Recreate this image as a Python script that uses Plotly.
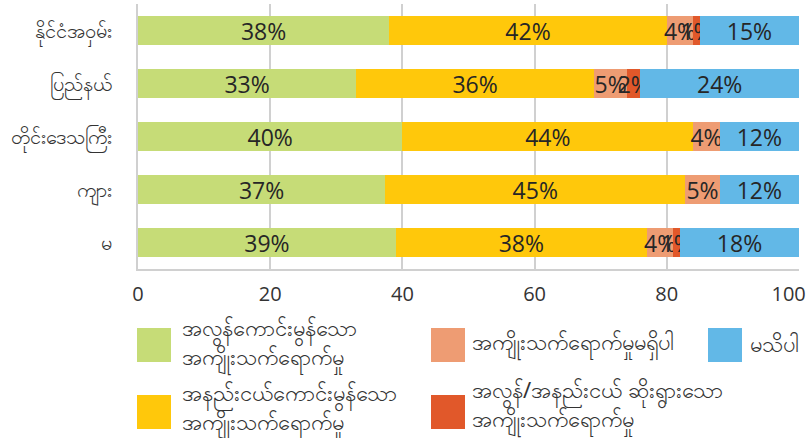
import plotly.graph_objects as go

# ---------------- data ----------------
categories = ["နိုင်ငံအဝှမ်း", "ပြည်နယ်", "တိုင်းဒေသကြီး", "ကျား", "မ"]

series_names = [
    "အလွန်ကောင်းမွန်သော<br>အကျိုးသက်ရောက်မှု",
    "အနည်းငယ်ကောင်းမွန်သော<br>အကျိုးသက်ရောက်မှု",
    "အကျိုးသက်ရောက်မှုမရှိပါ",
    "အလွန်/အနည်းငယ် ဆိုးရွားသော<br>အကျိုးသက်ရောက်မှု",
    "မသိပါ",
]

very_good = [38, 33, 40, 37.4, 39]
slightly_good = [42, 36, 44, 45.4, 38]
no_effect = [4, 5, 4, 5.2, 4]
bad = [1, 2, 0, 0, 1]
dont_know = [15, 24, 12, 12, 18]

x_ticks = [0, 20, 40, 60, 80, 100]
x_tick_labels = ["0", "20", "40", "60", "80", "100\u00a0\u00a0\u00a0\u00a0"]

colors = ["#C6DC77", "#FFC80B", "#EE9C73", "#E1582A", "#62B8E7"]

# ---------------- figure ----------------
W, H = 809, 438
ML, MR, MT, MB = 138, 10, 4, 169
PW, PH = W - ML - MR, H - MT - MB

fig = go.Figure()
all_series = [very_good, slightly_good, no_effect, bad, dont_know]
for name, vals, col in zip(series_names, all_series, colors):
    fig.add_trace(go.Bar(
        y=categories, x=vals, name=name, orientation="h",
        marker=dict(color=col, line=dict(width=0)),
        text=[f"{v:.0f}%" if v > 0 else "" for v in vals],
        textposition="inside", insidetextanchor="middle", textangle=0,
        textfont=dict(family="Open Sans", size=23, color="#262626"),
        cliponaxis=False, showlegend=False,
        hovertemplate="%{y}: %{x}%<extra></extra>",
    ))


def px_x(p):
    return (p - ML) / PW


def px_y(p):
    return (H - MB - p) / PH


# custom legend (large swatches as in the reference)
legend_items = [
    # (series index, square left px, square top px, text left px, text center px)
    (0, 137, 328, 180, 344),
    (1, 137, 395, 180, 409),
    (2, 431, 328, 470, 343),
    (3, 431, 395, 470, 406),
    (4, 708, 328, 748, 343),
]
shapes, annotations = [], []
for idx, sx, sy, tx, ty in legend_items:
    shapes.append(dict(
        type="rect", xref="paper", yref="paper",
        x0=px_x(sx), x1=px_x(sx + 34), y0=px_y(sy + 34), y1=px_y(sy),
        fillcolor=colors[idx], line=dict(width=0), layer="above",
    ))
    annotations.append(dict(
        xref="paper", yref="paper", x=px_x(tx), y=px_y(ty),
        xanchor="left", yanchor="middle", align="left",
        text=series_names[idx], showarrow=False,
        font=dict(family="Noto Sans", size=22, color="#333333"),
    ))

fig.update_layout(
    width=W, height=H,
    margin=dict(l=ML, r=MR, t=MT, b=MB, autoexpand=False),
    barmode="stack", bargap=0.453,
    plot_bgcolor="white", paper_bgcolor="white",
    uniformtext=dict(minsize=23, mode="show"),
    showlegend=False,
    shapes=shapes, annotations=annotations,
    xaxis=dict(
        range=[0, 100], tickvals=x_ticks, ticktext=x_tick_labels,
        showgrid=True, gridcolor="#D0D0D0", gridwidth=2,
        showline=True, linecolor="#D0D0D0", linewidth=2,
        zeroline=False, ticks="outside", ticklen=6, tickcolor="rgba(0,0,0,0)",
        ticklabeloverflow="allow", automargin=False,
        tickfont=dict(family="Open Sans", size=20, color="#333333"),
    ),
    yaxis=dict(
        categoryorder="array", categoryarray=categories, autorange="reversed",
        showline=True, linecolor="#D0D0D0", linewidth=2,
        showgrid=False, zeroline=False,
        ticks="outside", ticklen=20, tickcolor="rgba(0,0,0,0)",
        automargin=False,
        tickfont=dict(family="Noto Sans", size=20, color="#333333"),
    ),
    font=dict(family="Open Sans", color="#333333"),
)

fig.write_html(
    "out.html",
    config={"displayModeBar": False},
    post_script="document.body.style.margin='0';document.body.style.overflow='hidden';",
)
